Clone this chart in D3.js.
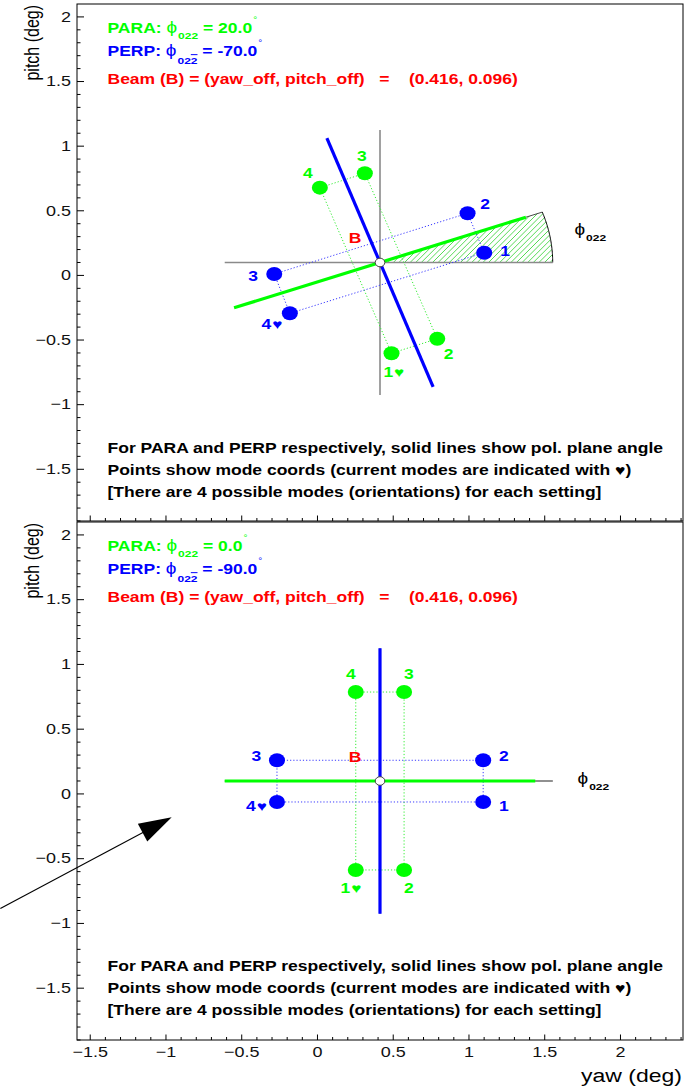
<!DOCTYPE html>
<html>
<head>
<meta charset="utf-8">
<script src="https://cdn.jsdelivr.net/npm/d3@7"></script>
<style>
  body { margin: 0; background: #fff; }
  svg { display: block; }
  text { font-family: "Liberation Sans", Arial, Helvetica, sans-serif; white-space: pre; }
</style>
</head>
<body>
<svg id="chart" width="690" height="1088"></svg>
<script>
// ---- beam offset and polarisation plane angles (deg) ----
const beam = [0.416, 0.096];               // (yaw_off, pitch_off)
const paraAngles = [20.0, 0.0];            // PARA phi_022, top / bottom setting
const perpAngles = [-70.0, -90.0];         // PERP phi_02-2, top / bottom setting

// ---- mode coordinates (yaw, pitch) for modes 1..4 ----
const modeIds = [1, 2, 3, 4];
const paraYawTop   = [0.492, 0.794, 0.316, 0.019];
const paraPitchTop = [-0.606, -0.494, 0.786, 0.675];
const perpYawTop   = [1.104, 0.994, -0.282, -0.179];
const perpPitchTop = [0.172, 0.477, 0.007, -0.297];
const paraYawBot   = [0.256, 0.575, 0.575, 0.256];
const paraPitchBot = [-0.591, -0.591, 0.783, 0.783];
const perpYawBot   = [1.097, 1.097, -0.264, -0.264];
const perpPitchBot = [-0.066, 0.256, 0.256, -0.066];
const currentPara = 1;   // current PARA mode
const currentPerp = 4;   // current PERP mode

// ---- axes ----
const xDomain = [-1.584, 2.416];
const yDomain = [-1.904, 2.096];
const xTicks = [-1.5, -1, -0.5, 0, 0.5, 1, 1.5, 2];
const xTickLabels = ["\u22121.5", "\u22121", "\u22120.5", "0", "0.5", "1", "1.5", "2"];
const yTicks = [2, 1.5, 1, 0.5, 0, -0.5, -1, -1.5];
const yTickLabels = ["2", "1.5", "1", "0.5", "0", "\u22120.5", "\u22121", "\u22121.5"];
const xMinor = d3.range(-15, 25).map(d => d / 10);
const yMinor = d3.range(-19, 21).map(d => d / 10);

// ---- drawing constants ----
const planeHalfLength = 1.025;   // half length of the solid plane lines (deg)
const arcRadius = 1.14;          // radius of the hatched phi sector (deg)
const modeLabelScale = 1.2;      // labels sit slightly beyond their points
const phiLabelRadius = 1.37;
const arrowStart = [-2.09, -0.889];   // annotation arrow, lower panel coords
const arrowTip = [-0.959, -0.183];

const GREEN = "#00ff00", BLUE = "#0000ff", RED = "#ff0000";
const SY = 0.82;   // vertical squash applied to all text

const svg = d3.select("#chart");
const defs = svg.append("defs");

function txt(parent, x, y, size, rotate) {
  const g = parent.append("g")
    .attr("transform", `translate(${x},${y}) scale(1,${SY})` + (rotate ? " rotate(-90)" : ""));
  return g.append("text").attr("font-size", size);
}

const panels = [
  { y0: 4, y1: 521, para: paraAngles[0], perp: perpAngles[0],
    paraYaw: paraYawTop, paraPitch: paraPitchTop, perpYaw: perpYawTop, perpPitch: perpPitchTop,
    xLabels: false },
  { y0: 522, y1: 1040, para: paraAngles[1], perp: perpAngles[1],
    paraYaw: paraYawBot, paraPitch: paraPitchBot, perpYaw: perpYawBot, perpPitch: perpPitchBot,
    xLabels: true }
];

const X0 = 77, X1 = 683;
const rad = d => d * Math.PI / 180;
const TEXT_F = 17.5;

panels.forEach((p, pi) => {
  const g = svg.append("g");
  const x = d3.scaleLinear().domain(xDomain).range([X0, X1]);
  const y = d3.scaleLinear().domain(yDomain).range([p.y1, p.y0]);
  p.x = x; p.y = y;
  const bx = beam[0], by = beam[1];

  g.append("rect").attr("x", X0).attr("y", p.y0).attr("width", X1 - X0).attr("height", p.y1 - p.y0)
    .attr("fill", "#fff").attr("stroke", "#000").attr("stroke-width", 1);

  // hatched sector between the horizontal and the PARA plane
  const a1 = rad(p.para);
  const arcPts = d3.range(0, 41).map(i => a1 * i / 40)
    .map(a => [bx + arcRadius * Math.cos(a), by + arcRadius * Math.sin(a)]);
  const line = d3.line().x(d => x(d[0])).y(d => y(d[1]));
  const sectorD = line([[bx, by], ...arcPts]) + "Z";
  const clipId = "sector-clip-" + pi;
  defs.append("clipPath").attr("id", clipId).append("path").attr("d", sectorD);
  const hatch = g.append("g").attr("clip-path", `url(#${clipId})`);
  const cx = x(bx), cy = y(by);
  const span = x(bx + arcRadius) - cx + 10;
  hatch.selectAll("line").data(d3.range(-span, span, 5.6)).enter().append("line")
    .attr("x1", k => cx + k - span).attr("y1", cy + span)
    .attr("x2", k => cx + k + span).attr("y2", cy - span)
    .attr("stroke", "#2ccf2c").attr("stroke-width", 0.8);
  g.append("path").attr("d", line(arcPts))
    .attr("fill", "none").attr("stroke", "#000").attr("stroke-width", 1);
  const tip = arcPts[arcPts.length - 1];
  g.append("path").attr("d", line([[bx + planeHalfLength * Math.cos(a1), by + planeHalfLength * Math.sin(a1)], tip]))
    .attr("fill", "none").attr("stroke", "#333").attr("stroke-width", 0.9);

  // reference cross through the beam
  g.append("line").attr("x1", x(bx - planeHalfLength)).attr("x2", x(bx + arcRadius))
    .attr("y1", y(by)).attr("y2", y(by)).attr("stroke", "#8a8a8a").attr("stroke-width", 1.6);
  g.append("line").attr("x1", x(bx)).attr("x2", x(bx))
    .attr("y1", y(by + planeHalfLength)).attr("y2", y(by - planeHalfLength))
    .attr("stroke", "#8a8a8a").attr("stroke-width", 1.6);

  const sets = [
    { yaw: p.paraYaw, pitch: p.paraPitch, color: GREEN, angle: p.para, current: currentPara, dot: "#33ee33" },
    { yaw: p.perpYaw, pitch: p.perpPitch, color: BLUE, angle: p.perp, current: currentPerp, dot: "#3a3aff" }
  ];

  // dotted mode rectangles
  sets.forEach(s => {
    const pts = modeIds.map((m, i) => [s.yaw[i], s.pitch[i]]);
    g.append("path").attr("d", line([...pts, pts[0]]))
      .attr("fill", "none").attr("stroke", s.dot).attr("stroke-width", 1)
      .attr("stroke-dasharray", "1.2,2");
  });

  // solid polarisation plane lines
  sets.forEach(s => {
    const a = rad(s.angle);
    g.append("line")
      .attr("x1", x(bx - planeHalfLength * Math.cos(a))).attr("y1", y(by - planeHalfLength * Math.sin(a)))
      .attr("x2", x(bx + planeHalfLength * Math.cos(a))).attr("y2", y(by + planeHalfLength * Math.sin(a)))
      .attr("stroke", s.color).attr("stroke-width", 3.2);
  });

  // mode points and their labels
  sets.forEach(s => {
    g.selectAll(null).data(modeIds).enter().append("ellipse")
      .attr("cx", (m, i) => x(s.yaw[i])).attr("cy", (m, i) => y(s.pitch[i]))
      .attr("rx", 8).attr("ry", 7).attr("fill", s.color);
    modeIds.forEach((m, i) => {
      const lx = bx + modeLabelScale * (s.yaw[i] - bx);
      const ly = by + modeLabelScale * (s.pitch[i] - by);
      const t = txt(g, x(lx), y(ly), 17.5).attr("text-anchor", "middle").attr("dy", "0.36em")
        .attr("font-weight", "bold").attr("fill", s.color);
      t.append("tspan").text(m);
      if (m === s.current) t.append("tspan").attr("font-size", 17).attr("dx", 1).text("\u2665");
    });
  });

  // beam marker
  g.append("ellipse").attr("cx", x(bx)).attr("cy", y(by)).attr("rx", 4.8).attr("ry", 4.3)
    .attr("fill", "#fff").attr("stroke", "#444").attr("stroke-width", 1);
  txt(g, x(bx - 0.165), y(by + 0.19), 17.5).attr("text-anchor", "middle").attr("dy", "0.36em")
    .attr("font-weight", "bold").attr("fill", RED).text("B");

  // phi label
  const ah = rad(p.para / 2);
  const ph = txt(g, x(bx + phiLabelRadius * Math.cos(ah)) - 10, y(by + phiLabelRadius * Math.sin(ah)), 19)
    .attr("fill", "#000").attr("dy", "0.2em");
  ph.append("tspan").text("\u03d5");
  ph.append("tspan").attr("font-size", 12).attr("font-weight", "bold").attr("dy", 7).attr("dx", 1).text("022");

  // header
  const hx = 107.5, hy = p.y0 + 28.5;
  const t1 = txt(g, hx, hy, TEXT_F).attr("font-weight", "bold").attr("fill", GREEN);
  t1.append("tspan").text("PARA: ");
  t1.append("tspan").attr("font-weight", "normal").attr("font-size", 19).text("\u03d5");
  t1.append("tspan").attr("font-size", 12).attr("dy", 7.5).attr("dx", 1).text("022");
  t1.append("tspan").attr("dy", -7.5).text(" = " + p.para.toFixed(1));
  t1.append("tspan").attr("font-size", 10).attr("font-weight", "normal").attr("dy", -12).attr("dx", 1).text("\u00b0");

  const t2 = txt(g, hx, hy + 23.3, TEXT_F).attr("font-weight", "bold").attr("fill", BLUE);
  t2.append("tspan").text("PERP: ");
  t2.append("tspan").attr("font-weight", "normal").attr("font-size", 19).text("\u03d5");
  t2.append("tspan").attr("font-size", 12).attr("dy", 10).attr("dx", 1).text("02");
  t2.append("tspan").attr("font-size", 12).attr("text-decoration", "overline").text("2");
  t2.append("tspan").attr("dy", -10).text(" = " + p.perp.toFixed(1));
  t2.append("tspan").attr("font-size", 10).attr("font-weight", "normal").attr("dy", -12).attr("dx", 1).text("\u00b0");

  txt(g, hx, hy + 51.6, TEXT_F).attr("font-weight", "bold").attr("fill", RED)
    .text(`Beam (B) = (yaw_off, pitch_off)   =    (${beam[0].toFixed(3)}, ${beam[1].toFixed(3)})`);

  // notes
  const notes = [
    "For PARA and PERP respectively, solid lines show pol. plane angle",
    "Points show mode coords (current modes are indicated with \u2665)",
    "[There are 4 possible modes (orientations) for each setting]"
  ];
  notes.forEach((n, i) => {
    txt(g, hx, p.y0 + 449 + i * 22, TEXT_F).attr("font-weight", "bold").attr("fill", "#000").text(n);
  });

  // y axis
  const yMaj = g.append("g").attr("transform", `translate(${X0},0)`)
    .call(d3.axisLeft(y).tickValues(yTicks).tickFormat((d, i) => yTickLabels[i])
      .tickSizeInner(-7).tickSizeOuter(0).tickPadding(6));
  const yMin = g.append("g").attr("transform", `translate(${X0},0)`)
    .call(d3.axisLeft(y).tickValues(yMinor.filter(v => !yTicks.includes(v))).tickFormat("")
      .tickSizeInner(-3.5).tickSizeOuter(0));
  [yMaj, yMin].forEach(a => a.select(".domain").remove());
  yMaj.selectAll("text").attr("font-size", 18).attr("font-family", "Liberation Sans, Arial, sans-serif")
    .attr("fill", "#111").attr("transform", `scale(1,${SY})`);

  // x axis along the bottom of the frame
  const xMaj = g.append("g").attr("transform", `translate(0,${p.y1})`)
    .call(d3.axisBottom(x).tickValues(xTicks)
      .tickFormat((d, i) => p.xLabels ? xTickLabels[i] : "")
      .tickSizeInner(-5.5).tickSizeOuter(0).tickPadding(7 / SY));
  const xMin = g.append("g").attr("transform", `translate(0,${p.y1})`)
    .call(d3.axisBottom(x).tickValues(xMinor.filter(v => !xTicks.includes(v))).tickFormat("")
      .tickSizeInner(-3).tickSizeOuter(0));
  [xMaj, xMin].forEach(a => a.select(".domain").remove());
  xMaj.selectAll("text").attr("font-size", 18).attr("font-family", "Liberation Sans, Arial, sans-serif")
    .attr("fill", "#111").attr("transform", `scale(1,${SY})`);
  g.selectAll(".tick line").attr("stroke", "#000");

  // y title
  txt(g, 39, p.y0 + 1, 19.5, true).attr("text-anchor", "end").attr("fill", "#000").text("pitch (deg)");
});

// x title
txt(svg, 682, 1082, 23).attr("text-anchor", "end").attr("fill", "#000").text("yaw (deg)");

// annotation arrow pointing at the lower panel
(function () {
  const x = panels[1].x, y = panels[1].y;
  const sx = x(arrowStart[0]), sy = y(arrowStart[1]);
  const tx = x(arrowTip[0]), ty = y(arrowTip[1]);
  const len = Math.hypot(tx - sx, ty - sy);
  const ux = (tx - sx) / len, uy = (ty - sy) / len;
  const headLen = 33, headHalf = 10;
  const bxp = tx - ux * headLen, byp = ty - uy * headLen;
  svg.append("line").attr("x1", sx).attr("y1", sy).attr("x2", bxp + ux * 2).attr("y2", byp + uy * 2)
    .attr("stroke", "#000").attr("stroke-width", 1.1);
  svg.append("path")
    .attr("d", `M${tx},${ty} L${bxp - uy * headHalf},${byp + ux * headHalf} L${bxp + uy * headHalf},${byp - ux * headHalf} Z`)
    .attr("fill", "#000");
})();
</script>
</body>
</html>
